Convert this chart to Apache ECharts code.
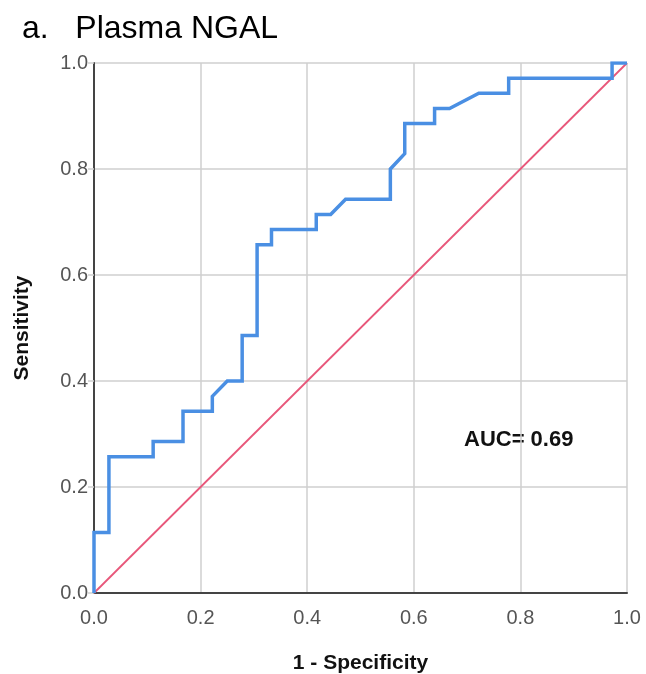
<!DOCTYPE html>
<html>
<head>
<meta charset="utf-8">
<title>Plasma NGAL ROC</title>
<script src="https://cdn.jsdelivr.net/npm/echarts@6/dist/echarts.min.js"></script>
<style>
  html, body { margin: 0; padding: 0; background: #fff; }
  #chart { width: 646px; height: 674px; }
</style>
</head>
<body>
<div id="chart"></div>
<script>
// ROC curve (1 - specificity, sensitivity)
var fpr = [0, 0, 0.028, 0.028, 0.111, 0.111, 0.167, 0.167, 0.222, 0.222, 0.25, 0.278, 0.278, 0.306, 0.306, 0.333, 0.333, 0.417, 0.417, 0.444, 0.472, 0.556, 0.556, 0.583, 0.583, 0.639, 0.639, 0.667, 0.722, 0.778, 0.778, 0.972, 0.972, 1]
var tpr = [0, 0.114, 0.114, 0.257, 0.257, 0.286, 0.286, 0.343, 0.343, 0.371, 0.4, 0.4, 0.486, 0.486, 0.657, 0.657, 0.686, 0.686, 0.714, 0.714, 0.743, 0.743, 0.8, 0.829, 0.886, 0.886, 0.914, 0.914, 0.943, 0.943, 0.971, 0.971, 1, 1]
// reference line
var refX = [0, 1]
var refY = [0, 1]
var aucText = 'AUC= 0.69'

var font = 'Arial, "Liberation Sans", sans-serif'
var chart = echarts.init(document.getElementById('chart'), null, { renderer: 'canvas' })

chart.setOption({
  backgroundColor: '#fff',
  animation: false,
  title: {
    text: 'a.   Plasma NGAL',
    left: 17,
    top: 8,
    textStyle: {
      fontFamily: font,
      fontSize: 32,
      fontWeight: 'normal',
      color: '#000'
    }
  },
  grid: {
    left: 94,
    right: 19,
    top: 63,
    bottom: 81,
    outerBoundsMode: 'none'
  },
  xAxis: {
    type: 'value',
    min: 0,
    max: 1,
    interval: 0.2,
    name: '1 - Specificity',
    nameLocation: 'middle',
    nameGap: 60,
    nameTextStyle: {
      fontFamily: font,
      fontSize: 21,
      fontWeight: 'bold',
      color: '#111'
    },
    axisLine: { lineStyle: { color: '#444', width: 2 } },
    axisTick: { show: false },
    axisLabel: {
      margin: 15,
      fontFamily: font,
      fontSize: 20,
      color: '#555',
      formatter: function (v) { return v.toFixed(1) }
    },
    splitLine: { show: true, lineStyle: { color: '#cfcfcf', width: 1.5 } }
  },
  yAxis: {
    type: 'value',
    min: 0,
    max: 1,
    interval: 0.2,
    name: 'Sensitivity',
    nameLocation: 'middle',
    nameGap: 61,
    nameTextStyle: {
      fontFamily: font,
      fontSize: 21,
      fontWeight: 'bold',
      color: '#111'
    },
    axisLine: { show: true, lineStyle: { color: '#444', width: 2 } },
    axisTick: { show: true, length: 6, lineStyle: { color: '#cfcfcf', width: 1.5 } },
    axisLabel: {
      margin: 6,
      fontFamily: font,
      fontSize: 20,
      color: '#555',
      formatter: function (v) { return v.toFixed(1) }
    },
    splitLine: { show: true, lineStyle: { color: '#cfcfcf', width: 1.5 } }
  },
  graphic: [{
    type: 'text',
    left: 464,
    top: 429,
    style: {
      text: aucText,
      font: 'bold 22px ' + font,
      fill: '#111'
    }
  }],
  series: [{
    name: 'Reference',
    type: 'line',
    data: refX.map(function (x, i) { return [x, refY[i]] }),
    showSymbol: false,
    lineStyle: { color: '#e8577a', width: 1.8 },
    z: 2
  }, {
    name: 'Plasma NGAL',
    type: 'line',
    data: fpr.map(function (x, i) { return [x, tpr[i]] }),
    showSymbol: false,
    lineStyle: { color: '#4a8fe3', width: 3.5, join: 'miter' },
    z: 3
  }]
})
</script>
</body>
</html>
